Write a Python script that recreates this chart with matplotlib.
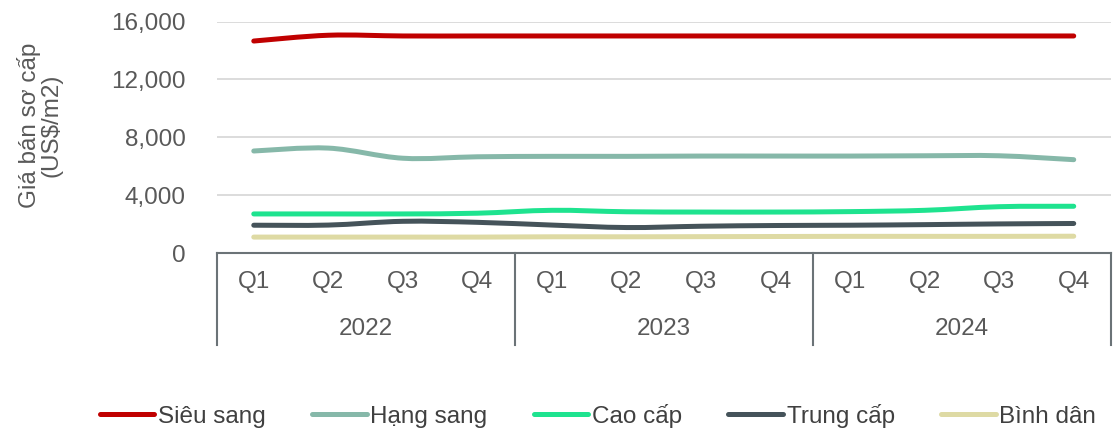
import matplotlib
matplotlib.use("Agg")
import matplotlib.pyplot as plt
from matplotlib.path import Path
from matplotlib.patches import PathPatch
from matplotlib.lines import Line2D
from matplotlib.ticker import FuncFormatter
import matplotlib.transforms as mtransforms
import numpy as np

plt.rcParams['font.family'] = ['Liberation Sans', 'DejaVu Sans']

quarters = ["Q1", "Q2", "Q3", "Q4"] * 3
years = ["2022", "2023", "2024"]

sieu_sang = [14650, 15050, 15000, 15000, 15000, 15000, 15000, 15000, 15000, 15000, 15000, 15000]
hang_sang = [7050, 7250, 6550, 6650, 6680, 6680, 6700, 6700, 6700, 6720, 6720, 6450]
cao_cap = [2700, 2700, 2700, 2750, 2950, 2850, 2830, 2830, 2860, 2950, 3200, 3230]
trung_cap = [1920, 1930, 2190, 2120, 1930, 1760, 1850, 1900, 1920, 1960, 2010, 2040]
binh_dan = [1100, 1100, 1100, 1100, 1120, 1120, 1130, 1140, 1150, 1150, 1150, 1160]

series_names = ["Siêu sang", "Hạng sang", "Cao cấp", "Trung cấp", "Bình dân"]
series_values = [sieu_sang, hang_sang, cao_cap, trung_cap, binh_dan]
colors = ["#C00000", "#86B8A9", "#1EE38F", "#45535A", "#DEDAA4"]

TXT = "#595959"
FS = 17.5


def smooth_path(xs, ys):
    pts = np.column_stack([xs, ys]).astype(float)
    n = len(pts)
    verts = [pts[0]]
    codes = [Path.MOVETO]
    for i in range(n - 1):
        p0 = pts[i - 1] if i > 0 else pts[i]
        p1 = pts[i]
        p2 = pts[i + 1]
        p3 = pts[i + 2] if i + 2 < n else pts[i + 1]
        c1 = p1 + (p2 - p0) / 6.0
        c2 = p2 - (p3 - p1) / 6.0
        verts += [c1, c2, p2]
        codes += [Path.CURVE4] * 3
    return Path(verts, codes)


W, H = 1113, 432
fig = plt.figure(figsize=(W / 100, H / 100), dpi=100)
ax_l, ax_r, ax_t, ax_b = 216.5, 1111, 21.5, 253
ax = fig.add_axes([ax_l / W, 1 - ax_b / H, (ax_r - ax_l) / W, (ax_b - ax_t) / H])

x = np.arange(len(quarters))
for vals, col in zip(series_values, colors):
    p = smooth_path(x, vals)
    ax.add_patch(PathPatch(p, facecolor="none", edgecolor=col, lw=3.6,
                           capstyle="round", joinstyle="round", zorder=3))

ax.set_xlim(-0.5, len(quarters) - 0.5)
ax.set_ylim(0, 16000)
ax.set_yticks([0, 4000, 8000, 12000, 16000])
ax.yaxis.set_major_formatter(FuncFormatter(lambda v, _: f"{int(v):,}"))
ax.tick_params(axis="y", length=0, pad=22, labelsize=FS, labelcolor=TXT)
ax.set_xticks([])
ax.grid(axis="y", color="#D9D9D9", lw=1.3)
ax.set_axisbelow(True)
for s in ["top", "right", "left"]:
    ax.spines[s].set_visible(False)
ax.spines["bottom"].set_color("#6B7377")
ax.spines["bottom"].set_linewidth(1.5)

# multi-level category axis
trans = mtransforms.blended_transform_factory(ax.transData, ax.transAxes)
axh = ax_b - ax_t
y_q = -(282 - ax_b) / axh
y_y = -(329 - ax_b) / axh
y_bot = -(345 - ax_b) / axh
for i, q in enumerate(quarters):
    ax.text(i, y_q, q, transform=trans, ha="center", va="center",
            fontsize=FS, color=TXT)
for j, yr in enumerate(years):
    ax.text(j * 4 + 1.5, y_y, yr, transform=trans, ha="center", va="center",
            fontsize=FS, color=TXT)
for b in [-0.5, 3.5, 7.5, 11.5]:
    ax.add_line(Line2D([b, b], [0, y_bot], transform=trans, color="#6B7377",
                       lw=1.5, clip_on=False))

fig.text(40 / W, 1 - 125 / H, "Giá bán sơ cấp\n(US$/m2)", rotation=90,
         ha="center", va="center", fontsize=FS, color=TXT, linespacing=0.95)

handles = [Line2D([], [], color=c, lw=3.6, solid_capstyle="round") for c in colors]
fig.legend(handles, series_names, loc="center", bbox_to_anchor=(598 / W, 1 - 416 / H),
           ncol=5, frameon=False, fontsize=FS, handlelength=2.25, handletextpad=0.15,
           columnspacing=1.9, labelcolor="#404040")

fig.savefig("out.png", dpi=100, facecolor="white")
